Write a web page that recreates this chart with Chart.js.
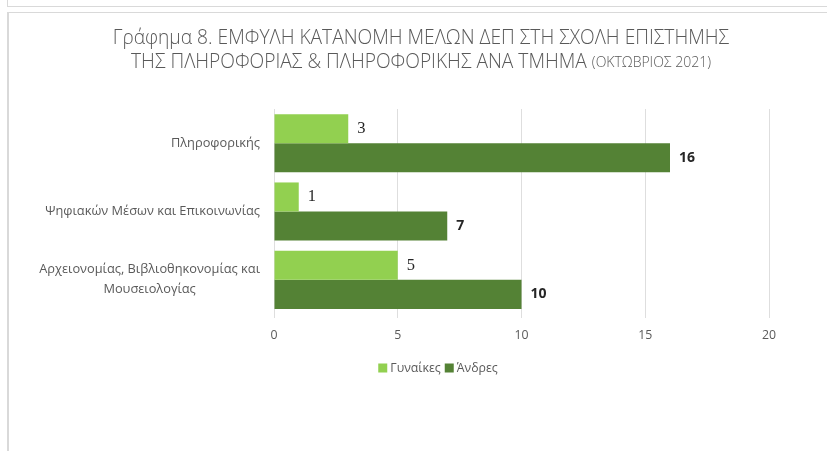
<!DOCTYPE html>
<html><head><meta charset="utf-8">
<script src="https://cdn.jsdelivr.net/npm/chart.js@4.4.0/dist/chart.umd.min.js"></script>
<style>
html,body{margin:0;padding:0;background:#fff;width:827px;height:451px;overflow:hidden;}
#b1{position:absolute;left:7px;top:-10px;width:900px;height:15px;border:1px solid #d9d9d9;}
#b2{position:absolute;left:7px;top:12px;width:900px;height:500px;border:1px solid #d9d9d9;border-left:2px solid #d9d9d9;}
#wrap{position:absolute;left:0;top:0;width:827px;height:451px;}
</style></head><body>
<div id="b1"></div><div id="b2"></div>
<div id="wrap"><canvas id="c" width="827" height="451"></canvas></div>
<script>
const categories = [["Πληροφορικής"], ["Ψηφιακών Μέσων και Επικοινωνίας"], ["Αρχειονομίας, Βιβλιοθηκονομίας και", "Μουσειολογίας"]];
const seriesNames = ["Γυναίκες", "Άνδρες"];
const women = [3, 1, 5];
const men = [16, 7, 10];
const xTicks = [0, 5, 10, 15, 20];
const titleLine1 = "Γράφημα 8. ΕΜΦΥΛΗ ΚΑΤΑΝΟΜΗ ΜΕΛΩΝ ΔΕΠ ΣΤΗ ΣΧΟΛΗ ΕΠΙΣΤΗΜΗΣ";
const titleLine2a = "ΤΗΣ ΠΛΗΡΟΦΟΡΙΑΣ & ΠΛΗΡΟΦΟΡΙΚΗΣ ΑΝΑ ΤΜΗΜΑ ";
const titleLine2b = "(ΟΚΤΩΒΡΙΟΣ 2021)";

const colors = ["#92D050", "#548235"];
const txt = "#595959";
const FONT = "'Open Sans', 'Noto Sans', sans-serif";

const overlay = {
  id: 'overlay',
  afterDraw(chart) {
    const ctx = chart.ctx;
    const y = chart.scales.y;
    ctx.save();
    // title
    ctx.fillStyle = txt;
    ctx.textBaseline = 'middle';
    ctx.textAlign = 'center';
    ctx.font = "300 19.2px " + FONT;
    ctx.fillText(titleLine1, 421, 38.5);
    const wa = ctx.measureText(titleLine2a).width;
    ctx.font = "300 14px " + FONT;
    const wb = ctx.measureText(titleLine2b).width;
    const start = 421 - (wa + wb) / 2;
    ctx.textAlign = 'left';
    ctx.font = "300 19.2px " + FONT;
    ctx.fillText(titleLine2a, start, 62.5);
    ctx.font = "300 14px " + FONT;
    ctx.fillText(titleLine2b, start + wa, 63.5);
    // category labels
    ctx.font = "12.8px " + FONT;
    ctx.fillStyle = txt;
    categories.forEach((lines, i) => {
      const cy = y.getPixelForValue(i);
      const widths = lines.map(l => ctx.measureText(l).width);
      const maxW = Math.max(...widths);
      const right = 260;
      const center = right - maxW / 2;
      const lh = 20;
      lines.forEach((l, j) => {
        ctx.textAlign = 'center';
        ctx.fillText(l, center, cy + (j - (lines.length - 1) / 2) * lh);
      });
    });
    // data labels
    chart.data.datasets.forEach((ds, di) => {
      const meta = chart.getDatasetMeta(di);
      meta.data.forEach((bar, i) => {
        ctx.textAlign = 'left';
        ctx.fillStyle = '#262626';
        ctx.font = di === 0 ? "16.5px 'Liberation Serif', 'DejaVu Serif', serif" : "bold 14px " + FONT;
        ctx.fillText(String(ds.data[i]), bar.x + 9, bar.y);
      });
    });
    // legend
    ctx.font = "12.3px " + FONT;
    const items = seriesNames.map((n, i) => ({n, w: ctx.measureText(n).width, c: colors[i]}));
    const box = 9, gap1 = 3, gap2 = 4;
    let total = 0;
    items.forEach((it, i) => { total += box + gap1 + it.w + (i < items.length - 1 ? gap2 : 0); });
    let lx = 438 - total / 2;
    const ly = 368;
    items.forEach(it => {
      ctx.fillStyle = it.c;
      ctx.fillRect(lx, ly - box / 2, box, box);
      lx += box + gap1;
      ctx.fillStyle = txt;
      ctx.textAlign = 'left';
      ctx.fillText(it.n, lx, ly);
      lx += it.w + gap2;
    });
    ctx.restore();
  }
};

new Chart(document.getElementById('c'), {
  type: 'bar',
  data: {
    labels: categories,
    datasets: [
      { label: seriesNames[0], data: women, backgroundColor: colors[0], barPercentage: 1, categoryPercentage: 0.85 },
      { label: seriesNames[1], data: men, backgroundColor: colors[1], barPercentage: 1, categoryPercentage: 0.85 }
    ]
  },
  options: {
    indexAxis: 'y',
    responsive: false,
    animation: false,
    layout: { padding: { left: 274, right: 58, top: 109, bottom: 97 } },
    plugins: { legend: { display: false }, title: { display: false }, tooltip: { enabled: false } },
    scales: {
      x: {
        min: 0, max: 20,
        afterBuildTicks: s => { s.ticks = xTicks.map(v => ({ value: v })); },
        afterFit: s => { s.height = 40; },
        grid: { color: '#dedede', lineWidth: 1, drawTicks: true, tickLength: 4 },
        border: { display: false },
        ticks: { color: txt, font: { family: FONT, size: 12.3 }, padding: 10 }
      },
      y: {
        afterFit: s => { s.width = 0; },
        grid: { display: false },
        border: { display: false },
        ticks: { display: false }
      }
    }
  },
  plugins: [overlay]
});
</script>
</body></html>
